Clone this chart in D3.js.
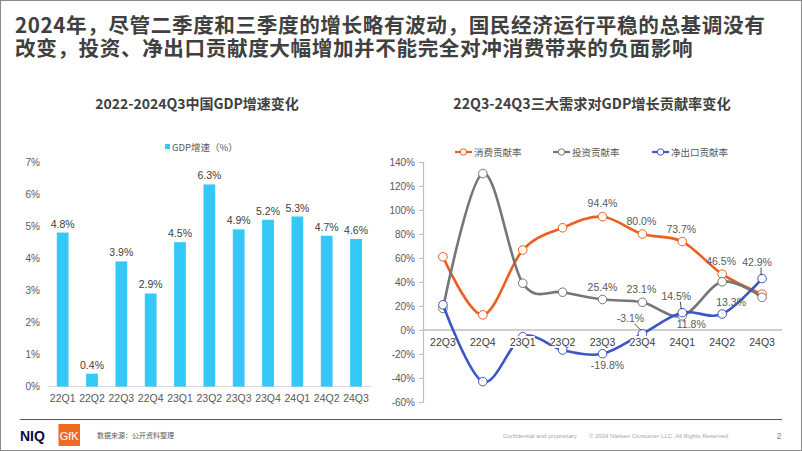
<!DOCTYPE html>
<html>
<head>
<meta charset="utf-8">
<script src="https://cdn.jsdelivr.net/npm/d3@7"></script>
<style>
  html, body { margin: 0; padding: 0; background: #fff; }
  body { position: relative; width: 802px; height: 451px; overflow: hidden; }
  svg { display: block; }
  #title { position: absolute; left: 15px; top: 13.4px; white-space: pre; margin: 0;
    font-family: 'Noto Sans CJK SC', 'Noto Sans', sans-serif; font-weight: bold;
    font-size: 20.6px; line-height: 22.3px; letter-spacing: 0.6px; color: #404040; }
</style>
</head>
<body>
<svg id="chart" width="802" height="451"></svg>
<div id="title"></div>
<script>
// ---------- DATA ----------
const titleLines = [
  "2024年，尽管二季度和三季度的增长略有波动，国民经济运行平稳的总基调没有",
  "改变，投资、净出口贡献度大幅增加并不能完全对冲消费带来的负面影响"
];
const leftTitle = "2022-2024Q3中国GDP增速变化";
const leftLegend = "GDP增速（%）";
const leftCats = ["22Q1","22Q2","22Q3","22Q4","23Q1","23Q2","23Q3","23Q4","24Q1","24Q2","24Q3"];
const gdpGrowth = [4.8, 0.4, 3.9, 2.9, 4.5, 6.3, 4.9, 5.2, 5.3, 4.7, 4.6];
const leftTicks = [0, 1, 2, 3, 4, 5, 6, 7];

const rightTitle = "22Q3-24Q3三大需求对GDP增长贡献率变化";
const rightCats = ["22Q3","22Q4","23Q1","23Q2","23Q3","23Q4","24Q1","24Q2","24Q3"];
const seriesNames = ["消费贡献率", "投资贡献率", "净出口贡献率"];
const consumption = [61.0, 12.6, 66.6, 85.2, 94.4, 80.0, 73.7, 46.5, 29.9];
const investment  = [18.0, 130.4, 39.0, 31.5, 25.4, 23.1, 11.8, 40.2, 27.2];
const netExports  = [21.0, -43.0, -5.6, -16.7, -19.8, -3.1, 14.5, 13.3, 42.9];
const rightTicks = [-60, -40, -20, 0, 20, 40, 60, 80, 100, 120, 140];

const footerSource = "数据来源：公开资料整理";
const footerConf = "Confidential and proprietary";
const footerCopy = "© 2024 Nielsen Consumer LLC. All Rights Reserved.";
const pageNo = "2";

// ---------- STYLE ----------
const CJK = "'Noto Sans CJK SC', 'Noto Sans', sans-serif";
const LAT = "'Liberation Sans', Arial, 'Noto Sans CJK SC', sans-serif";
const colBar = "#33c8f6";
const colors = ["#ec5f1c", "#767676", "#3a56c8"];

const svg = d3.select("#chart");

// frame
svg.append("rect").attr("x", 0.5).attr("y", 0.5).attr("width", 801).attr("height", 450)
  .attr("fill", "#fff").attr("stroke", "#8a8a8a").attr("stroke-width", 1);

// main title: one text block wrapped onto two lines
d3.select("#title").text(titleLines.join("\n"));

// ---------- LEFT CHART ----------
const L = svg.append("g");
L.append("text").attr("x", 197).attr("y", 103).attr("text-anchor", "middle")
  .attr("dominant-baseline", "central")
  .attr("font-family", CJK).attr("font-weight", "bold").attr("font-size", 14)
  .attr("fill", "#404040").text(leftTitle);

// legend
L.append("rect").attr("x", 165).attr("y", 144).attr("width", 5).attr("height", 5).attr("fill", colBar);
L.append("text").attr("x", 172).attr("y", 147).attr("dominant-baseline", "central")
  .attr("font-family", CJK).attr("font-size", 9.5).attr("fill", "#595959").text(leftLegend);

const xL = d3.scaleBand().domain(leftCats).range([48, 370.7]).paddingInner(0.6).paddingOuter(0.3);
const yL = d3.scaleLinear().domain([0, 7]).range([386.5, 162]);

// y tick labels
L.append("g").selectAll("text").data(leftTicks).join("text")
  .attr("x", 40).attr("y", d => yL(d)).attr("text-anchor", "end").attr("dominant-baseline", "central")
  .attr("font-family", LAT).attr("font-size", 10).attr("fill", "#595959").text(d => d + "%");

// baseline
L.append("line").attr("x1", 48).attr("x2", 370.7).attr("y1", yL(0)).attr("y2", yL(0))
  .attr("stroke", "#d9d9d9").attr("stroke-width", 1);

// bars
L.append("g").selectAll("rect").data(gdpGrowth).join("rect")
  .attr("x", (d, i) => xL(leftCats[i])).attr("width", xL.bandwidth())
  .attr("y", d => yL(d)).attr("height", d => yL(0) - yL(d)).attr("fill", colBar);

// value labels
L.append("g").selectAll("text").data(gdpGrowth).join("text")
  .attr("x", (d, i) => xL(leftCats[i]) + xL.bandwidth() / 2).attr("y", d => yL(d) - 9)
  .attr("text-anchor", "middle").attr("dominant-baseline", "central")
  .attr("font-family", LAT).attr("font-size", 10.5).attr("fill", "#404040").text(d => d.toFixed(1) + "%");

// x labels
L.append("g").selectAll("text").data(leftCats).join("text")
  .attr("x", d => xL(d) + xL.bandwidth() / 2).attr("y", 397.5)
  .attr("text-anchor", "middle").attr("dominant-baseline", "central")
  .attr("font-family", LAT).attr("font-size", 10.5).attr("fill", "#595959").text(d => d);

// ---------- RIGHT CHART ----------
const R = svg.append("g");
R.append("text").attr("x", 592).attr("y", 103).attr("text-anchor", "middle")
  .attr("dominant-baseline", "central")
  .attr("font-family", CJK).attr("font-weight", "bold").attr("font-size", 14.2)
  .attr("fill", "#404040").text(rightTitle);

// legend
const legX = [455, 553, 652];
const leg = R.append("g").selectAll("g").data(seriesNames).join("g")
  .attr("transform", (d, i) => `translate(${legX[i]},152)`);
leg.append("line").attr("x1", 0).attr("x2", 17).attr("y1", 0).attr("y2", 0)
  .attr("stroke", (d, i) => colors[i]).attr("stroke-width", 2.2);
leg.append("circle").attr("cx", 8.5).attr("cy", 0).attr("r", 3.2)
  .attr("fill", "#fff").attr("stroke", (d, i) => colors[i]).attr("stroke-width", 1);
leg.append("text").attr("x", 19).attr("y", 0).attr("dominant-baseline", "central")
  .attr("font-family", CJK).attr("font-size", 9.5).attr("fill", "#595959").text(d => d);

const xR = d3.scaleBand().domain(rightCats).range([423, 782]);
const cx = c => xR(c) + xR.bandwidth() / 2;
const yR = d3.scaleLinear().domain([-60, 140]).range([402, 162]);

// y axis
const yAxis = d3.axisLeft(yR).tickValues(rightTicks).tickSize(4).tickFormat(d => d + "%");
const ya = R.append("g").attr("transform", "translate(423,0)").call(yAxis);
ya.select(".domain").attr("stroke", "#bfbfbf").attr("stroke-width", 1.2);
ya.selectAll(".tick line").attr("stroke", "#bfbfbf");
ya.selectAll(".tick text").attr("x", -8).attr("font-family", LAT).attr("font-size", 10)
  .attr("fill", "#595959");

// zero line
R.append("line").attr("x1", 423).attr("x2", 782).attr("y1", yR(0)).attr("y2", yR(0))
  .attr("stroke", "#bfbfbf").attr("stroke-width", 1.5);

const allSeries = [consumption, investment, netExports];
const line = d3.line().x((d, i) => cx(rightCats[i])).y(d => yR(d)).curve(d3.curveCardinal.tension(0));

const sg = R.append("g").selectAll("g").data(allSeries).join("g");
sg.append("path").attr("d", d => line(d)).attr("fill", "none")
  .attr("stroke", (d, i) => colors[i]).attr("stroke-width", 2.6).attr("stroke-linejoin", "round");
sg.each(function (vals, si) {
  d3.select(this).selectAll("circle").data(vals).join("circle")
    .attr("cx", (d, i) => cx(rightCats[i])).attr("cy", d => yR(d)).attr("r", 4.3)
    .attr("fill", "#fff").attr("stroke", colors[si]).attr("stroke-width", 1);
});

// x category labels (white background like the original)
const xl = R.append("g").selectAll("g").data(rightCats).join("g")
  .attr("transform", d => `translate(${cx(d)},342)`);
xl.append("rect").attr("x", -12).attr("y", -6).attr("width", 24).attr("height", 12).attr("fill", "#fff");
xl.append("text").attr("text-anchor", "middle").attr("dominant-baseline", "central")
  .attr("font-family", LAT).attr("font-size", 10.5).attr("fill", "#404040").text(d => d);

// data labels: [series index, category index, dx, dy, leader]
const labelSpec = [
  [0, 4, 0, -14, false], [0, 5, -1, -13, false], [0, 6, -1, -13, false], [0, 7, -1, -13, false],
  [1, 4, 0, -13, false], [1, 5, -1, -13, false], [1, 6, 9, 8, false],
  [2, 4, 5, 11, false], [2, 5, -12, -16, true], [2, 6, -6, -17, true], [2, 7, 9, -12, false],
  [2, 8, -5, -17, true]
];
const lg = R.append("g");
labelSpec.forEach(([s, c, dx, dy, leader]) => {
  const v = allSeries[s][c];
  const px = cx(rightCats[c]), py = yR(v);
  if (leader) {
    lg.append("line").attr("x1", px + dx + 4).attr("y1", py + dy + 6).attr("x2", px - 1).attr("y2", py - 3)
      .attr("stroke", "#222").attr("stroke-width", 0.8);
  }
  lg.append("text").attr("x", px + dx).attr("y", py + dy).attr("text-anchor", "middle")
    .attr("dominant-baseline", "central").attr("font-family", LAT).attr("font-size", 10.5)
    .attr("fill", "#595959").text(v.toFixed(1) + "%");
});

// ---------- FOOTER ----------
const F = svg.append("g");
F.append("line").attr("x1", 20).attr("x2", 782).attr("y1", 419.5).attr("y2", 419.5)
  .attr("stroke", "#595959").attr("stroke-width", 1.2);
F.append("text").attr("x", 20).attr("y", 436).attr("dominant-baseline", "central")
  .attr("font-family", LAT).attr("font-weight", "bold").attr("font-size", 14)
  .attr("fill", "#0b0b3b").text("NIQ");
F.append("rect").attr("x", 58.5).attr("y", 424).attr("width", 21.5).attr("height", 22).attr("fill", "#ee6c22");
F.append("text").attr("x", 69.2).attr("y", 436).attr("text-anchor", "middle").attr("dominant-baseline", "central")
  .attr("font-family", LAT).attr("font-size", 11).attr("fill", "#fff").text("GfK");
F.append("text").attr("x", 97).attr("y", 435).attr("dominant-baseline", "central")
  .attr("font-family", CJK).attr("font-size", 7).attr("fill", "#595959").text(footerSource);
F.append("text").attr("x", 503).attr("y", 436).attr("dominant-baseline", "central")
  .attr("font-family", LAT).attr("font-size", 6).attr("fill", "#a6a6a6").text(footerConf);
F.append("text").attr("x", 589).attr("y", 436).attr("dominant-baseline", "central")
  .attr("font-family", LAT).attr("font-size", 6).attr("fill", "#a6a6a6").text(footerCopy);
F.append("text").attr("x", 779).attr("y", 436).attr("text-anchor", "middle").attr("dominant-baseline", "central")
  .attr("font-family", LAT).attr("font-size", 8.5).attr("fill", "#7f7f7f").text(pageNo);
</script>
</body>
</html>
